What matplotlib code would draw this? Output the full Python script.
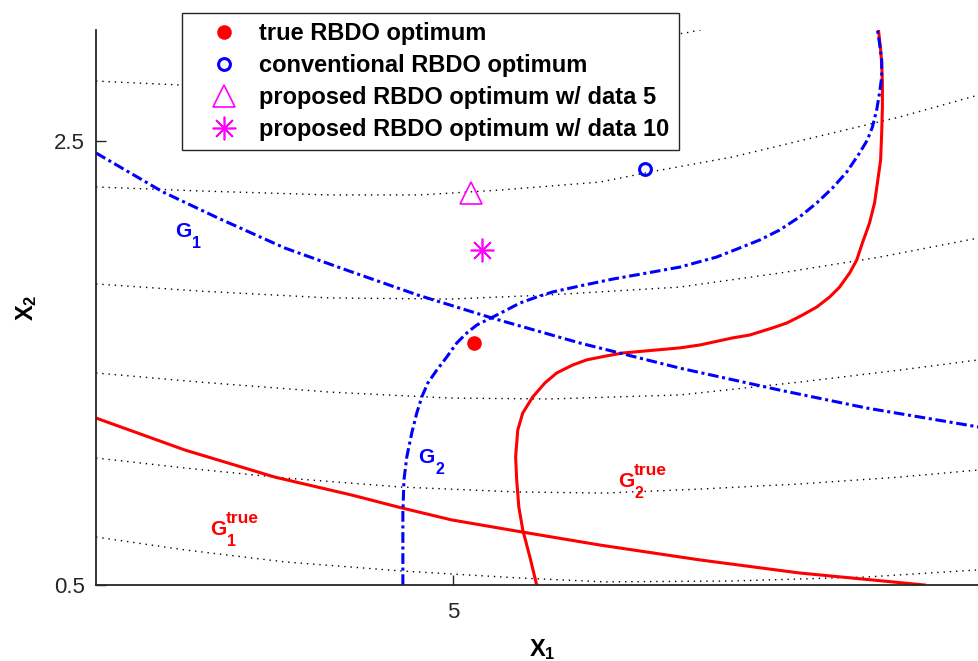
import numpy as np
import matplotlib.pyplot as plt

plt.rcParams['font.family'] = 'Liberation Sans'
plt.rcParams['mathtext.fontset'] = 'custom'
plt.rcParams['mathtext.bf'] = 'Liberation Sans:bold'
plt.rcParams['mathtext.rm'] = 'Liberation Sans'
plt.rcParams['mathtext.it'] = 'Liberation Sans:italic'

# objective contours (dotted)
c1_x = [4.0, 4.238, 5.650, 5.692, 5.720]
c1_y = [2.770, 2.752, 2.986, 3.000, 3.014]
c2_x = [4.0, 4.291, 4.655, 4.908, 5.132, 5.412, 5.552, 5.784, 6.064, 6.252, 6.473]
c2_y = [2.293, 2.275, 2.257, 2.257, 2.279, 2.315, 2.360, 2.428, 2.536, 2.608, 2.707]
c3_x = [4.0, 4.291, 4.655, 4.992, 5.263, 5.636, 5.916, 6.196, 6.473]
c3_y = [1.856, 1.824, 1.793, 1.788, 1.806, 1.842, 1.905, 1.977, 2.063]
c4_x = [4.0, 4.291, 4.655, 4.992, 5.272, 5.636, 5.972, 6.252, 6.473]
c4_y = [1.455, 1.414, 1.369, 1.342, 1.338, 1.356, 1.414, 1.468, 1.514]
c5_x = [4.0, 4.249, 4.529, 4.857, 5.182, 5.426, 5.692, 5.972, 6.252, 6.473]
c5_y = [1.072, 1.027, 0.982, 0.941, 0.919, 0.914, 0.932, 0.955, 0.986, 1.018]
c6_x = [4.0, 4.249, 4.529, 4.857, 5.182, 5.426, 5.784, 6.160, 6.473]
c6_y = [0.716, 0.658, 0.604, 0.563, 0.532, 0.514, 0.518, 0.536, 0.568]
contours = [(c1_x, c1_y), (c2_x, c2_y), (c3_x, c3_y),
            (c4_x, c4_y), (c5_x, c5_y), (c6_x, c6_y)]

# true constraint boundaries
g1t_x = [4.0, 4.249, 4.501, 4.717, 4.857, 4.997, 5.193, 5.412, 5.692, 5.972, 6.322]
g1t_y = [1.252, 1.108, 0.986, 0.905, 0.847, 0.793, 0.739, 0.680, 0.613, 0.554, 0.500]
g2t_x = [5.235, 5.216, 5.196, 5.185, 5.179, 5.176, 5.182, 5.196, 5.224, 5.258, 5.291,
         5.336, 5.375, 5.431, 5.476, 5.636, 5.692, 5.784, 5.832, 5.896, 5.936, 5.980,
         6.020, 6.056, 6.084, 6.112, 6.132, 6.148, 6.168, 6.182, 6.190, 6.199, 6.202,
         6.204, 6.204, 6.202, 6.199, 6.193]
g2t_y = [0.500, 0.626, 0.748, 0.851, 0.973, 1.077, 1.198, 1.275, 1.347, 1.410, 1.455,
         1.491, 1.514, 1.532, 1.545, 1.568, 1.581, 1.613, 1.626, 1.658, 1.680, 1.716,
         1.752, 1.797, 1.842, 1.905, 1.964, 2.041, 2.131, 2.221, 2.311, 2.414, 2.536,
         2.653, 2.761, 2.851, 2.910, 3.000]

# conventional constraint boundaries
g1_x = [4.0, 4.188, 4.342, 4.529, 4.717, 4.902, 5.109, 5.356, 5.636, 5.916, 6.160, 6.473]
g1_y = [2.446, 2.270, 2.153, 2.018, 1.910, 1.806, 1.703, 1.590, 1.477, 1.378, 1.297, 1.212]
g2_x = [4.860, 4.860, 4.860, 4.863, 4.871, 4.885, 4.899, 4.913, 4.930, 4.955, 4.983,
        5.011, 5.039, 5.067, 5.112, 5.151, 5.188, 5.235, 5.280, 5.356, 5.448, 5.543,
        5.636, 5.739, 5.804, 5.860, 5.916, 5.972, 6.020, 6.064, 6.104, 6.140, 6.162,
        6.176, 6.188, 6.196, 6.202, 6.202, 6.196, 6.190]
g2_y = [0.500, 0.671, 0.824, 0.973, 1.077, 1.185, 1.275, 1.347, 1.410, 1.468, 1.527,
        1.590, 1.635, 1.671, 1.707, 1.739, 1.770, 1.797, 1.820, 1.847, 1.878, 1.905,
        1.932, 1.977, 2.018, 2.054, 2.099, 2.158, 2.221, 2.288, 2.360, 2.446, 2.505,
        2.563, 2.640, 2.716, 2.788, 2.865, 2.941, 3.000]

# optima
true_opt = (5.059, 1.590)
conv_opt = (5.538, 2.374)
prop5_opt = (5.050, 2.266)
prop10_opt = (5.081, 2.009)

fig = plt.figure(figsize=(9.79, 6.61), dpi=100)
ax = fig.add_axes([0.0981, 0.115, 0.9111, 0.8396])

for cx, cy in contours:
    ax.plot(cx, cy, color='k', lw=1.0, dashes=(1, 3.5))

ax.plot(g1t_x, g1t_y, color='red', lw=2.2)
ax.plot(g2t_x, g2t_y, color='red', lw=2.2)
ax.plot(g1_x, g1_y, color='blue', lw=2.2, dashes=(3.5, 1.2, 1.0, 1.2))
ax.plot(g2_x, g2_y, color='blue', lw=2.2, dashes=(3.5, 1.2, 1.0, 1.2))

ax.plot(*true_opt, ls='none', marker='o', color='red', ms=9.5,
        label='true RBDO optimum')
ax.plot(*conv_opt, ls='none', marker='o', mfc='none', mec='blue', mew=2.2, ms=8.5,
        label='conventional RBDO optimum')
ax.plot(*prop5_opt, ls='none', marker='^', mfc='none', mec='magenta', mew=1.2, ms=16.5,
        label='proposed RBDO optimum w/ data 5')
ax.plot(*prop10_opt, ls='none', marker=(8, 2, 0), color='magenta', mew=1.2, ms=17,
        label='proposed RBDO optimum w/ data 10')


def glabel(x, y, sub, sup, color):
    # letter G with subscript index and optional superscript
    t = ax.text(x, y, 'G', color=color, fontsize=15, fontweight='bold', va='baseline')
    ax.annotate(sub, xy=(1, 0), xycoords=t, xytext=(1, -7), textcoords='offset pixels',
                color=color, fontsize=11.5, fontweight='bold', va='baseline')
    if sup:
        ax.annotate(sup, xy=(1, 0), xycoords=t, xytext=(0, 16), textcoords='offset pixels',
                    color=color, fontsize=12.5, fontweight='bold', va='baseline')


glabel(4.221, 2.068, '1', None, 'blue')
glabel(4.902, 1.050, '2', None, 'blue')
glabel(4.319, 0.725, '1', 'true', 'red')
glabel(5.462, 0.941, '2', 'true', 'red')

ax.set_xlim(4, 6.5)
ax.set_ylim(0.5, 3.0)
ax.set_xticks([5])
ax.set_xticklabels(['5'])
ax.set_yticks([0.5, 2.5])
ax.set_yticklabels(['0.5', '2.5'])
ax.tick_params(direction='in', length=7, width=1, colors='#262626', labelsize=16)
ax.tick_params(axis='x', pad=12)
ax.tick_params(axis='y', pad=8)
for s in ['top', 'right']:
    ax.spines[s].set_visible(False)
for s in ['left', 'bottom']:
    ax.spines[s].set_linewidth(1.3)
    ax.spines[s].set_color('#262626')

ax.set_xlabel(r'$\mathbf{X}_\mathbf{1}$', fontsize=17, va='top')
ax.xaxis.set_label_coords(0.5, -0.094)
ax.set_ylabel(r'$\mathbf{X}_\mathbf{2}$', fontsize=17)
ax.yaxis.set_label_coords(-0.064, 0.5)

leg = ax.legend(loc='upper left', bbox_to_anchor=(182 / 979, 1 - 13 / 661),
                bbox_transform=fig.transFigure, borderaxespad=0, fancybox=False,
                edgecolor='#262626', framealpha=1, prop={'weight': 'bold', 'size': 17},
                handlelength=2.8, handletextpad=0.1, labelspacing=0.38, borderpad=0.38)
leg.get_frame().set_linewidth(1.0)

fig.savefig('out.png', dpi=100)
